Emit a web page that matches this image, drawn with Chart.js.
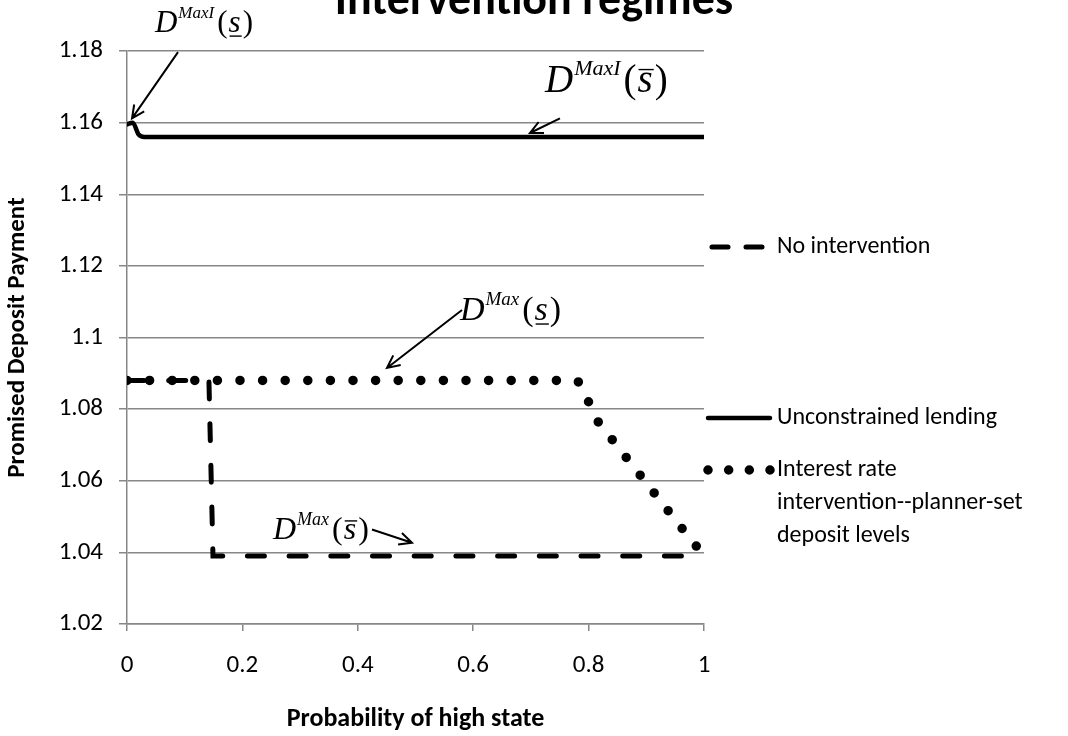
<!DOCTYPE html>
<html>
<head>
<meta charset="utf-8">
<title>Intervention regimes</title>
<script src="https://cdn.jsdelivr.net/npm/chart.js@4.4.1/dist/chart.umd.min.js"></script>
<style>
  body { margin: 0; background: #fff; }
  #wrap { width: 1068px; height: 736px; position: relative; }
</style>
</head>
<body>
<div id="wrap"><canvas id="depositChart"></canvas></div>
<script>
// axis ticks
const xTicks = [0, 0.2, 0.4, 0.6, 0.8, 1];
const yTicks = [1.02, 1.04, 1.06, 1.08, 1.1, 1.12, 1.14, 1.16, 1.18];

// series (probability of high state -> promised deposit payment)
const noInterventionX = [0, 0.142, 0.149, 1];
const noInterventionY = [1.088, 1.088, 1.039, 1.039];

const unconstrainedX = [0, 0.01, 0.02, 0.03, 1];
const unconstrainedY = [1.1595, 1.1600, 1.1567, 1.1560, 1.1560];

const interestRateX = [0, 0.78, 0.79, 0.81, 0.98, 1];
const interestRateY = [1.088, 1.088, 1.0862, 1.0778, 1.0430, 1.0392];

const seriesNames = [
    ['No intervention'],
    ['Unconstrained lending'],
    ['Interest rate', 'intervention--planner-set', 'deposit levels']
];

// math labels with arrows, in data units
const notes = [
    { sup: 'MaxI', bar: 'under', size: 31, at: [0.0485, 1.1852], from: [0.0884, 1.1797], to: [0.0087, 1.1612] },
    { sup: 'MaxI', bar: 'over',  size: 39, at: [0.7244, 1.1685], from: [0.7504, 1.1612], to: [0.6984, 1.1571] },
    { sup: 'Max',  bar: 'under', size: 34, at: [0.5771, 1.1049], from: [0.5806, 1.1077], to: [0.4506, 1.0915] },
    { sup: 'Max',  bar: 'over',  size: 32, at: [0.2530, 1.0436], from: [0.4246, 1.0464], to: [0.4939, 1.0427] }
];

const FONT = 'Carlito, Calibri, Lato, "Liberation Sans", sans-serif';
const SERIF = '"Liberation Serif", "Times New Roman", serif';
const GREY = '#878787';

function pairs(xs, ys) {
    return xs.map((x, i) => ({ x: x, y: ys[i] }));
}

function drawMath(ctx, x, y, size, sup, bar) {
    ctx.fillStyle = '#000';
    ctx.textBaseline = 'alphabetic';
    ctx.textAlign = 'left';
    ctx.font = 'italic ' + size + 'px ' + SERIF;
    ctx.fillText('D', x, y);
    let cx = x + ctx.measureText('D').width + 1;
    const supSize = Math.round(size * 0.56);
    ctx.font = 'italic ' + supSize + 'px ' + SERIF;
    ctx.fillText(sup, cx, y - size * 0.45);
    cx += ctx.measureText(sup).width + 3;
    ctx.font = size + 'px ' + SERIF;
    ctx.fillText('(', cx, y);
    cx += ctx.measureText('(').width + 1;
    ctx.font = 'italic ' + size + 'px ' + SERIF;
    ctx.fillText('s', cx, y);
    const sw = ctx.measureText('s').width;
    const by = bar === 'under' ? y + size * 0.12 : y - size * 0.58;
    ctx.beginPath();
    ctx.lineWidth = 1.4;
    ctx.strokeStyle = '#000';
    ctx.moveTo(cx + 1, by);
    ctx.lineTo(cx + sw + 1, by);
    ctx.stroke();
    cx += sw + 2;
    ctx.font = size + 'px ' + SERIF;
    ctx.fillText(')', cx, y);
}

function drawArrow(ctx, x0, y0, x1, y1) {
    const a = Math.atan2(y1 - y0, x1 - x0);
    const head = 14;
    ctx.beginPath();
    ctx.lineWidth = 2;
    ctx.strokeStyle = '#000';
    ctx.moveTo(x0, y0);
    ctx.lineTo(x1, y1);
    ctx.moveTo(x1 - head * Math.cos(a - 0.45), y1 - head * Math.sin(a - 0.45));
    ctx.lineTo(x1, y1);
    ctx.lineTo(x1 - head * Math.cos(a + 0.45), y1 - head * Math.sin(a + 0.45));
    ctx.stroke();
}

const notesPlugin = {
    id: 'notes',
    afterDatasetsDraw(chart) {
        const ctx = chart.ctx;
        const xs = chart.scales.x, ys = chart.scales.y;
        ctx.save();
        ctx.setLineDash([]);
        notes.forEach(n => {
            drawMath(ctx, xs.getPixelForValue(n.at[0]), ys.getPixelForValue(n.at[1]), n.size, n.sup, n.bar);
            drawArrow(ctx,
                xs.getPixelForValue(n.from[0]), ys.getPixelForValue(n.from[1]),
                xs.getPixelForValue(n.to[0]), ys.getPixelForValue(n.to[1]));
        });
        ctx.restore();
    }
};

// legend on the right, drawn from the dataset styles
const sideLegend = {
    id: 'sideLegend',
    afterDraw(chart) {
        const ctx = chart.ctx;
        const area = chart.chartArea;
        const rows = [247, 418, 470];
        const x0 = area.right + 4, x1 = area.right + 66;
        ctx.save();
        chart.data.datasets.forEach((ds, i) => {
            const y = rows[i];
            let dash = ds.borderDash || [];
            if (dash.length && dash[0] === 0) dash = [0, (x1 - x0) / 3];
            if (dash.length && dash[0] > 0) dash = [16, 18];
            ctx.beginPath();
            ctx.lineWidth = ds.borderWidth;
            ctx.lineCap = ds.borderCapStyle || 'butt';
            ctx.setLineDash(dash);
            ctx.lineDashOffset = 0;
            ctx.strokeStyle = ds.borderColor;
            ctx.moveTo(dash.length && dash[0] > 0 ? x0 + 4 : x0, y);
            ctx.lineTo(x1, y);
            ctx.stroke();
            ctx.setLineDash([]);
            ctx.fillStyle = '#000';
            ctx.font = '24px ' + FONT;
            ctx.textBaseline = 'middle';
            ctx.textAlign = 'left';
            seriesNames[i].forEach((line, j) => ctx.fillText(line, x1 + 7, y + j * 33));
        });
        ctx.restore();
    }
};

const ctx = document.getElementById('depositChart').getContext('2d');
const chart = new Chart(ctx, {
    type: 'line',
    data: {
        datasets: [{
            label: 'No intervention',
            data: pairs(noInterventionX, noInterventionY),
            borderColor: '#000',
            borderWidth: 5,
            borderDash: [17, 24.7],
            borderCapStyle: 'round',
            pointRadius: 0,
            tension: 0
        }, {
            label: 'Unconstrained lending',
            data: pairs(unconstrainedX, unconstrainedY),
            borderColor: '#000',
            borderWidth: 4.5,
            borderCapStyle: 'round',
            cubicInterpolationMode: 'monotone',
            pointRadius: 0
        }, {
            label: 'Interest rate intervention--planner-set deposit levels',
            data: pairs(interestRateX, interestRateY),
            borderColor: '#000',
            borderWidth: 9.5,
            borderDash: [0, 22.6],
            borderCapStyle: 'round',
            pointRadius: 0,
            tension: 0
        }]
    },
    options: {
        responsive: true,
        maintainAspectRatio: false,
        animation: false,
        layout: { padding: 0 },
        plugins: {
            legend: { display: false },
            tooltip: { enabled: false },
            title: {
                display: true,
                text: 'Intervention regimes',
                color: '#000',
                font: { family: FONT, size: 46, weight: 'bold' },
                padding: { top: -25, bottom: 20.8 }
            }
        },
        scales: {
            x: {
                type: 'linear',
                min: 0,
                max: 1,
                afterBuildTicks: s => { s.ticks = xTicks.map(v => ({ value: v })); },
                afterFit: s => { s.height = 112; },
                ticks: {
                    color: '#000',
                    font: { family: FONT, size: 25 },
                    padding: 20,
                    maxRotation: 0,
                    callback: v => String(+v.toFixed(1))
                },
                grid: { drawOnChartArea: false, color: GREY, lineWidth: 1.5, tickLength: 7 },
                border: { color: GREY, width: 1.5 },
                title: {
                    display: true,
                    text: 'Probability of high state',
                    color: '#000',
                    font: { family: FONT, size: 26, weight: 'bold' },
                    padding: { top: 0, bottom: 1 }
                }
            },
            y: {
                type: 'linear',
                min: 1.02,
                max: 1.18,
                afterBuildTicks: s => { s.ticks = yTicks.map(v => ({ value: v })); },
                afterFit: s => { s.width = 127; },
                ticks: {
                    color: '#000',
                    font: { family: FONT, size: 25 },
                    padding: 16,
                    callback: v => String(+v.toFixed(2))
                },
                grid: { color: GREY, lineWidth: 1.5, tickLength: 8 },
                border: { color: GREY, width: 1.5 },
                title: {
                    display: true,
                    text: 'Promised Deposit Payment',
                    color: '#000',
                    font: { family: FONT, size: 25, weight: 'bold' },
                    padding: { top: 3, bottom: 0 }
                }
            },
            legendSpace: {
                type: 'linear',
                position: 'right',
                min: 0,
                max: 1,
                afterFit: s => { s.width = 364; },
                ticks: { display: false },
                grid: { display: false },
                border: { display: false }
            }
        }
    },
    plugins: [notesPlugin, sideLegend]
});
</script>
</body>
</html>
